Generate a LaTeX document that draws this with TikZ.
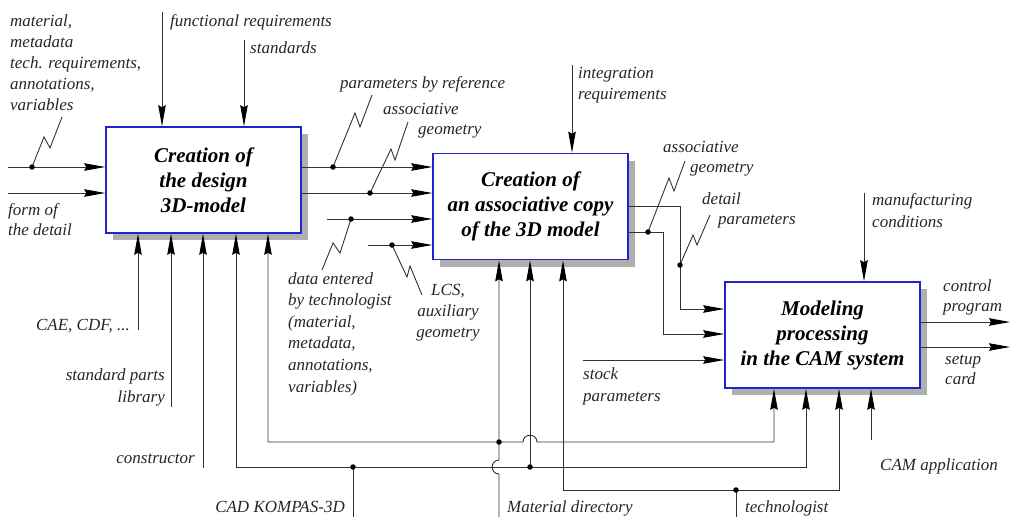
\documentclass[tikz,border=0pt]{standalone}
\usepackage{fontspec}
\setmainfont{Liberation Serif}
\usetikzlibrary{arrows.meta,calc,shadows}
\definecolor{boxblue}{RGB}{35,35,205}
\definecolor{shadowgray}{RGB}{175,175,175}
\definecolor{linegray}{RGB}{50,50,50}
% zigzag: end #1, kink #2, kink #3, end #4
\newcommand\zigline[4]{\draw[ln] (#1) -- (#2) -- (#3) -- (#4);}
\begin{document}
\begin{tikzpicture}[x=1pt,y=-1pt,
  box/.style={draw=boxblue, line width=1.6pt, fill=white, minimum width=195pt, minimum height=106pt, inner sep=0pt, align=center,
    font=\fontsize{21}{25}\selectfont\bfseries\itshape,
    drop shadow={shadow xshift=7pt, shadow yshift=-7pt, fill=shadowgray, opacity=1}},
  lbl/.style={font=\fontsize{17}{21}\selectfont\itshape, inner sep=0pt, text=black!85},
  ln/.style={draw=linegray, line width=0.9pt},
  tip/.tip={Stealth[length=21pt,width=7.5pt,inset=2pt,color=black]},
  arr/.style={ln, -tip},
  arrb/.style={ln, tip-tip},
  jdot/.style={circle, fill=black, inner sep=0pt, minimum size=5.5pt},
]
\useasboundingbox (0,0) rectangle (1016,517);

% boxes
\node[box] (b1) at (203.5,180) {Creation of\\the design\\3D-model};
\node[box] (b2) at (530.5,206.5) {Creation of\\an associative copy\\of the 3D model};
\node[box] (b3) at (822.5,335) {Modeling\\processing\\in the CAM system};

% coordinates
\coordinate (in1) at (8,167);
\coordinate (in2) at (8,193);
\coordinate (c1) at (162,12);
\coordinate (c2) at (244,40);
\coordinate (ic) at (572,65);
\coordinate (mc) at (864,193);
\coordinate (e1) at (327,219);
\coordinate (e2) at (368,245);
\coordinate (q1) at (680,206);
\coordinate (q2) at (663,232);
\coordinate (r1) at (680,309);
\coordinate (r2) at (663,334);
\coordinate (st) at (583,360);
\coordinate (out1) at (1010,322);
\coordinate (out2) at (1010,347);
\coordinate (k1) at (138,330);
\coordinate (k2) at (171,407);
\coordinate (k3) at (203,468);
\coordinate (m1) at (268,442);
\coordinate (m1e) at (774,442);
\coordinate (h1) at (530,442);
\coordinate (m2) at (236,467);
\coordinate (m2e) at (806,467);
\coordinate (j2) at (530,467);
\coordinate (cad) at (353,517);
\coordinate (j3) at (353,467);
\coordinate (md) at (499,517);
\coordinate (jm) at (499,442);
\coordinate (hv) at (499,467);
\coordinate (t1) at (563,490);
\coordinate (t1e) at (839,490);
\coordinate (tv) at (736,517);
\coordinate (jt) at (736,490);
\coordinate (ca) at (871,440);
% zigzag ends, kinks and dots
\coordinate (d1) at (32,167);  \coordinate (y1a) at (44,137);  \coordinate (y1b) at (50,148);  \coordinate (z1) at (62,117);
\coordinate (d2) at (333,167); \coordinate (y2a) at (355,113); \coordinate (y2b) at (360,127); \coordinate (z2) at (372,95);
\coordinate (d3) at (370,193); \coordinate (y3a) at (391,149); \coordinate (y3b) at (395,160); \coordinate (z3) at (408,122);
\coordinate (z4) at (322,270); \coordinate (y4a) at (333,243); \coordinate (y4b) at (340,253); \coordinate (d4) at (351,219);
\coordinate (d5) at (392,245); \coordinate (y5a) at (407,277); \coordinate (y5b) at (410,266); \coordinate (z5) at (422,295);
\coordinate (d6) at (648,232); \coordinate (y6a) at (669,178); \coordinate (y6b) at (674,191); \coordinate (z6) at (685,161);
\coordinate (d7) at (680,265); \coordinate (y7a) at (693,235); \coordinate (y7b) at (697,245); \coordinate (z7) at (710,215);

% box 1 inputs and controls
\draw[arr] (in1) -- (in1 -| b1.west);
\draw[arr] (in2) -- (in2 -| b1.west);
\draw[arr] (c1) -- (c1 |- b1.north);
\draw[arr] (c2) -- (c2 |- b1.north);
% box 1 -> box 2
\draw[arr] (b1.east |- in1) -- (b2.west |- in1);
\draw[arr] (b1.east |- in2) -- (b2.west |- in2);
\draw[arr] (e1) -- (e1 -| b2.west);
\draw[arr] (e2) -- (e2 -| b2.west);
\draw[arr] (ic) -- (ic |- b2.north);
% box 2 -> box 3
\draw[arr] (b2.east |- q1) -- (q1) -- (r1) -- (r1 -| b3.west);
\draw[arr] (b2.east |- q2) -- (q2) -- (r2) -- (r2 -| b3.west);
\draw[arr] (st) -- (st -| b3.west);
\draw[arr] (mc) -- (mc |- b3.north);
\draw[arr] (b3.east |- out1) -- (out1);
\draw[arr] (b3.east |- out2) -- (out2);
% mechanisms
\draw[arr] (k1) -- (k1 |- b1.south);
\draw[arr] (k2) -- (k2 |- b1.south);
\draw[arr] (k3) -- (k3 |- b1.south);
\draw[arrb] (m1 |- b1.south) -- (m1) -- ($(h1)+(-7,0)$) .. controls ($(h1)+(-7,-9)$) and ($(h1)+(7,-9)$) .. ($(h1)+(7,0)$) -- (m1e) -- (m1e |- b3.south);
\draw[arrb] (m2 |- b1.south) -- (m2) -- (m2e) -- (m2e |- b3.south);
\draw[arr] (j2) -- (j2 |- b2.south);
\draw[ln] (cad) -- (j3);
\draw[arr] (md) -- ($(hv)+(0,7)$) .. controls ($(hv)+(-9,7)$) and ($(hv)+(-9,-7)$) .. ($(hv)+(0,-7)$) -- (md |- b2.south);
\draw[arrb] (t1 |- b2.south) -- (t1) -- (t1e) -- (t1e |- b3.south);
\draw[ln] (tv) -- (jt);
\draw[arr] (ca) -- (ca |- b3.south);

% zigzags
\zigline{d1}{y1a}{y1b}{z1}
\zigline{d2}{y2a}{y2b}{z2}
\zigline{d3}{y3a}{y3b}{z3}
\zigline{z4}{y4a}{y4b}{d4}
\zigline{d5}{y5a}{y5b}{z5}
\zigline{d6}{y6a}{y6b}{z6}
\zigline{d7}{y7a}{y7b}{z7}

% junction dots
\foreach \p in {d1,d2,d3,d4,d5,d6,d7,j2,j3,jm,jt}
  \node[jdot] (n-\p) at (\p) {};

% labels (base anchor = baseline of last line)
\node[lbl, anchor=base west, align=left] (tmat) at (10,110) {material,\\metadata\\tech. requirements,\\annotations,\\variables};
\node[lbl, anchor=base west] (tfun) at (170,26) {functional requirements};
\node[lbl, anchor=base west] (tstd) at (250,53) {standards};
\node[lbl, anchor=base west, align=left, font=\fontsize{17}{20}\selectfont\itshape] (tform) at (8,235) {form of\\the detail};
\node[lbl, anchor=base west] (tpref) at (340,88) {parameters by reference};
\node[lbl, anchor=base west, align=left, font=\fontsize{17}{20}\selectfont\itshape] (tag1) at (383,134) {associative\\\hspace*{35pt}geometry};
\node[lbl, anchor=base west, align=left] (tint) at (578,99) {integration\\requirements};
\node[lbl, anchor=base west, align=left, font=\fontsize{17}{20}\selectfont\itshape] (tag2) at (663,172) {associative\\\hspace*{27pt}geometry};
\node[lbl, anchor=base west, align=left, font=\fontsize{17}{20}\selectfont\itshape] (tdet) at (702,224) {detail\\\hspace*{16pt}parameters};
\node[lbl, anchor=base west, align=left, font=\fontsize{17}{22}\selectfont\itshape] (tman) at (872,227) {manufacturing\\conditions};
\node[lbl, anchor=base west, align=left, font=\fontsize{17}{20}\selectfont\itshape] (tcon) at (943,311) {control\\program};
\node[lbl, anchor=base west, align=left, font=\fontsize{17}{20}\selectfont\itshape] (tset) at (945,384) {setup\\card};
\node[lbl, anchor=base west, align=left, font=\fontsize{17}{22}\selectfont\itshape] (tsto) at (583,401) {stock\\parameters};
\node[lbl, anchor=base east] (tcae) at (130,330) {CAE, CDF, ...};
\node[lbl, anchor=base east, align=right, font=\fontsize{17}{22}\selectfont\itshape] (tspl) at (165,402) {standard parts\\library};
\node[lbl, anchor=base east] (tcons) at (195,463) {constructor};
\node[lbl, anchor=base east] (tcad) at (345,512) {CAD KOMPAS-3D};
\node[lbl, anchor=base west, align=left, font=\fontsize{17}{21.6}\selectfont\itshape] (tdat) at (288,392) {data entered\\by technologist\\(material,\\metadata,\\annotations,\\variables)};
\node[lbl, anchor=base, align=center] (tlcs) at (448,337) {LCS,\\auxiliary\\geometry};
\node[lbl, anchor=base west] (tmd) at (507,512) {Material directory};
\node[lbl, anchor=base west] (ttech) at (745,512) {technologist};
\node[lbl, anchor=base west] (tcam) at (880,470) {CAM application};
\end{tikzpicture}
\end{document}
